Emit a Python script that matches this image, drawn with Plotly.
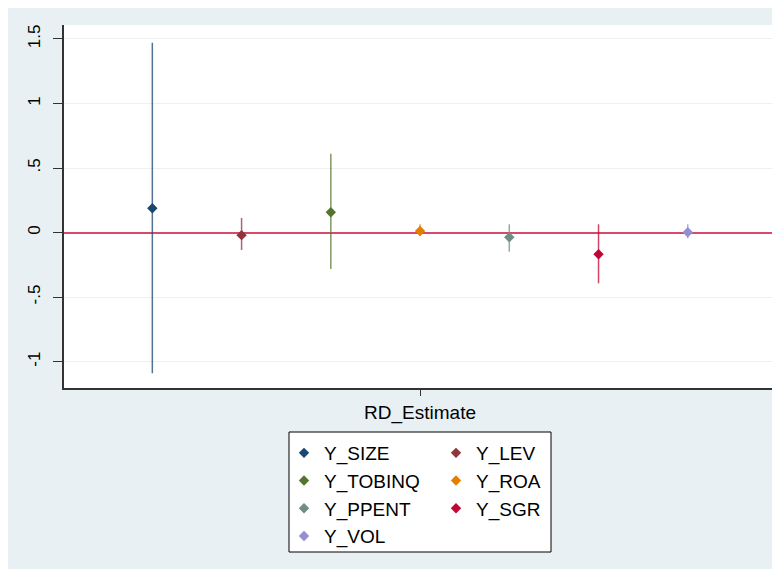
import plotly.graph_objects as go

# ---- data ----
series = ["Y_SIZE", "Y_LEV", "Y_TOBINQ", "Y_ROA", "Y_PPENT", "Y_SGR", "Y_VOL"]
estimate = [0.188, -0.02, 0.157, 0.012, -0.036, -0.168, 0.002]
ci_low = [-1.090, -0.135, -0.282, -0.024, -0.148, -0.393, -0.044]
ci_high = [1.471, 0.113, 0.610, 0.064, 0.064, 0.064, 0.064]
category = "RD_Estimate"
ytick_vals = [-1, -0.5, 0, 0.5, 1, 1.5]
ytick_text = ["-1", "-.5", "0", ".5", "1", "1.5"]

colors = ["#1a476f", "#90353b", "#55752f", "#e37e00", "#6e8e84", "#c10534", "#938dd2"]
ci_colors = ["rgba(26,71,111,0.75)", "rgba(144,53,59,0.75)", "rgba(85,117,47,0.75)",
             "rgba(227,126,0,0.75)", "rgba(110,142,132,0.75)", "rgba(193,5,52,0.75)",
             "rgba(147,141,210,0.75)"]
# left legend column / right legend column
legend_of = ["legend", "legend2", "legend", "legend2", "legend", "legend2", "legend"]

FONT = "Liberation Sans, Arial, sans-serif"
n = len(series)
center = (n - 1) / 2

fig = go.Figure()
for i, name in enumerate(series):
    fig.add_trace(go.Scatter(
        x=[i - center], y=[estimate[i]], name=name, mode="markers",
        marker=dict(symbol="diamond", size=8, color=colors[i]),
        error_y=dict(type="data", symmetric=False,
                     array=[ci_high[i] - estimate[i]],
                     arrayminus=[estimate[i] - ci_low[i]],
                     width=0, thickness=1.5, color=ci_colors[i]),
        legend=legend_of[i],
    ))

# page offset (body margin) is 8px
OFF = 8
W, H = 770, 561
L, R, T, B = 56, 1, 17, 181
pw, ph = W - L - R, H - T - B

def px(xp):
    return (xp - OFF - L) / pw

def py(yp):
    return (H - B - (yp - OFF)) / ph

shapes = [
    # legend box
    dict(type="rect", xref="paper", yref="paper", x0=px(289), x1=px(551), y0=py(552), y1=py(432),
         fillcolor="white", line=dict(color="black", width=1), layer="below"),
]

legend_common = dict(bgcolor="rgba(0,0,0,0)", borderwidth=0, orientation="v",
                     font=dict(family=FONT, size=19, color="black"),
                     xanchor="left", yanchor="top", tracegroupgap=0)

fig.update_layout(
    width=W, height=H,
    margin=dict(l=L, r=R, t=T, b=B, pad=0),
    paper_bgcolor="#e8f0f3", plot_bgcolor="white",
    font=dict(family=FONT, color="black"),
    showlegend=True,
    legend=dict(x=px(284), y=py(434), **legend_common),
    legend2=dict(x=px(436), y=py(434), **legend_common),
    shapes=shapes,
    xaxis=dict(range=[-center - 0.99, center + 1.0], tickvals=[0], ticktext=[category],
               ticks="outside", ticklen=6, tickcolor="#333", tickwidth=1,
               showgrid=False, zeroline=False, showline=True, linecolor="#333", linewidth=1.5,
               tickfont=dict(family=FONT, size=19, color="black"), fixedrange=True),
    yaxis=dict(range=[-1.204, 1.608], tickvals=ytick_vals, ticktext=ytick_text,
               tickangle=-90, ticks="outside", ticklen=9, tickcolor="#333", tickwidth=1,
               showgrid=True, gridcolor="#eaf0f3", gridwidth=1,
               zeroline=True, zerolinecolor="#d64a6a", zerolinewidth=2,
               showline=True, linecolor="#333", linewidth=1.5, ticklabelstandoff=6,
               tickfont=dict(family=FONT, size=17, color="black"), fixedrange=True),
)

fig.write_html("out.html")
